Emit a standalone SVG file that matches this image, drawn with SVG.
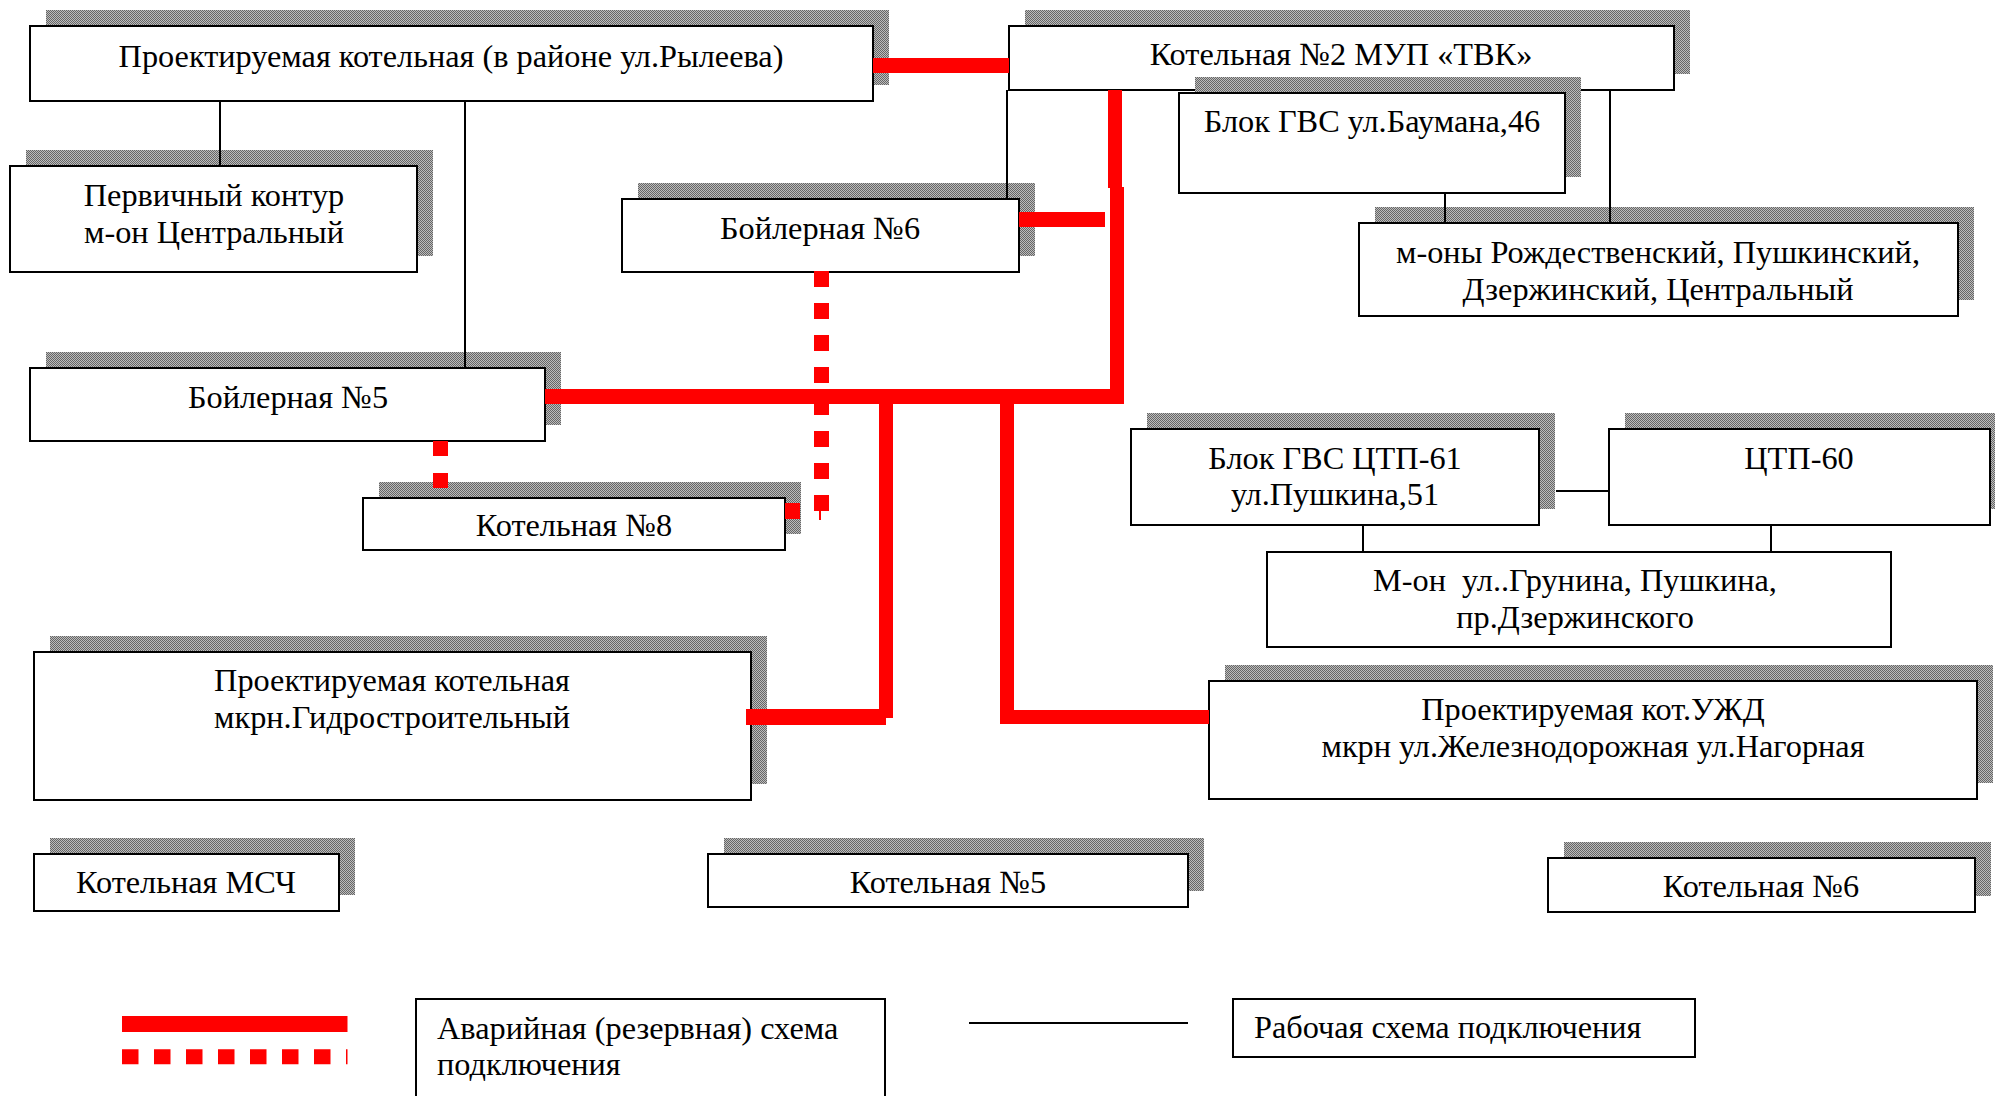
<svg xmlns="http://www.w3.org/2000/svg" width="1995" height="1096" viewBox="0 0 1995 1096">
<defs>
<pattern id="dots" width="2" height="2" patternUnits="userSpaceOnUse">
<rect width="2" height="2" fill="#bcbcbc"/>
<rect width="1" height="1" fill="#666"/>
<rect x="1" y="1" width="1" height="1" fill="#666"/>
</pattern>
</defs>
<style>
.box{fill:#fff;stroke:#000;stroke-width:2}
.sh{fill:url(#dots)}
.t{font-family:"Liberation Serif","Times New Roman",serif;font-size:32.3px;fill:#000;text-anchor:middle}
.tl{text-anchor:start}
.thin{stroke:#000;stroke-width:2;fill:none}
.red{fill:#f00}
.dash{stroke:#f00;stroke-width:15;fill:none}
</style>
<rect width="1995" height="1096" fill="#fff"/>

<g id="node-ryleeva">
<rect class="sh" x="46" y="10" width="843" height="75"/>
<rect class="box" x="30" y="26" width="843" height="75"/>
<text class="t" x="451" y="67">Проектируемая котельная (в районе ул.Рылеева)</text>
</g>
<g id="node-perv">
<rect class="sh" x="26" y="150" width="407" height="106"/>
<rect class="box" x="10" y="166" width="407" height="106"/>
<text class="t" x="214" y="206">Первичный контур</text>
<text class="t" x="214" y="243">м-он Центральный</text>
</g>
<g id="node-kot2">
<rect class="sh" x="1025" y="10" width="665" height="64"/>
<rect class="box" x="1009" y="26" width="665" height="64"/>
<text class="t" x="1341" y="65">Котельная №2 МУП «ТВК»</text>
</g>
<g id="node-boil6">
<rect class="sh" x="638" y="183" width="397" height="73"/>
<rect class="box" x="622" y="199" width="397" height="73"/>
<text class="t" x="820" y="239">Бойлерная №6</text>
</g>
<g id="node-baumana">
<rect class="sh" x="1195" y="77" width="386" height="100"/>
<rect class="box" x="1179" y="93" width="386" height="100"/>
<text class="t" x="1372" y="132">Блок ГВС ул.Баумана,46</text>
</g>
<g id="node-mony">
<rect class="sh" x="1375" y="207" width="599" height="93"/>
<rect class="box" x="1359" y="223" width="599" height="93"/>
<text class="t" x="1658" y="263">м-оны Рождественский, Пушкинский,</text>
<text class="t" x="1658" y="300">Дзержинский, Центральный</text>
</g>
<g id="node-boil5">
<rect class="sh" x="46" y="352" width="515" height="73"/>
<rect class="box" x="30" y="368" width="515" height="73"/>
<text class="t" x="288" y="408">Бойлерная №5</text>
</g>
<g id="node-kot8">
<rect class="sh" x="379" y="482" width="422" height="52"/>
<rect class="box" x="363" y="498" width="422" height="52"/>
<text class="t" x="574" y="536">Котельная №8</text>
</g>
<g id="node-ctp61">
<rect class="sh" x="1147" y="413" width="408" height="96"/>
<rect class="box" x="1131" y="429" width="408" height="96"/>
<text class="t" x="1335" y="469">Блок ГВС ЦТП-61</text>
<text class="t" x="1335" y="505">ул.Пушкина,51</text>
</g>
<g id="node-ctp60">
<rect class="sh" x="1625" y="413" width="381" height="96"/>
<rect class="box" x="1609" y="429" width="381" height="96"/>
<text class="t" x="1799" y="469">ЦТП-60</text>
</g>
<g id="node-grunina">
<rect class="box" x="1267" y="552" width="624" height="95"/>
<text class="t" x="1575" y="591" style="white-space:pre">М-он  ул..Грунина, Пушкина,</text>
<text class="t" x="1575" y="628">пр.Дзержинского</text>
</g>
<g id="node-gidro">
<rect class="sh" x="50" y="636" width="717" height="148"/>
<rect class="box" x="34" y="652" width="717" height="148"/>
<text class="t" x="392" y="691">Проектируемая котельная</text>
<text class="t" x="392" y="728">мкрн.Гидростроительный</text>
</g>
<g id="node-uzhd">
<rect class="sh" x="1225" y="665" width="768" height="118"/>
<rect class="box" x="1209" y="681" width="768" height="118"/>
<text class="t" x="1593" y="720">Проектируемая кот.УЖД</text>
<text class="t" x="1593" y="757">мкрн ул.Железнодорожная ул.Нагорная</text>
</g>
<g id="node-msch">
<rect class="sh" x="50" y="838" width="305" height="57"/>
<rect class="box" x="34" y="854" width="305" height="57"/>
<text class="t" x="186" y="893">Котельная МСЧ</text>
</g>
<g id="node-kot5">
<rect class="sh" x="724" y="838" width="480" height="53"/>
<rect class="box" x="708" y="854" width="480" height="53"/>
<text class="t" x="948" y="893">Котельная №5</text>
</g>
<g id="node-kot6">
<rect class="sh" x="1564" y="842" width="427" height="54"/>
<rect class="box" x="1548" y="858" width="427" height="54"/>
<text class="t" x="1761" y="897">Котельная №6</text>
</g>

<g id="connectors">
<line class="thin" x1="220" y1="101" x2="220" y2="166"/>
<line class="thin" x1="465" y1="101" x2="465" y2="368"/>
<line class="thin" x1="1007" y1="90" x2="1007" y2="199"/>
<line class="thin" x1="1610" y1="90" x2="1610" y2="223"/>
<line class="thin" x1="1445" y1="193" x2="1445" y2="223"/>
<line class="thin" x1="1556" y1="491" x2="1609" y2="491"/>
<line class="thin" x1="1363" y1="525" x2="1363" y2="552"/>
<line class="thin" x1="1771" y1="525" x2="1771" y2="552"/>

<rect class="red" x="873" y="58" width="136" height="15"/>
<rect class="red" x="1108" y="90" width="14" height="98"/>
<rect class="red" x="1110" y="187" width="14" height="217"/>
<rect class="red" x="1019" y="212" width="86" height="15"/>
<rect class="red" x="545" y="389" width="579" height="15"/>
<rect class="red" x="879" y="389" width="14" height="329"/>
<rect class="red" x="746" y="709" width="140" height="16"/>
<rect class="red" x="1000" y="389" width="14" height="335"/>
<rect class="red" x="1000" y="710" width="209" height="14"/>
<line class="dash" x1="821.5" y1="271" x2="821.5" y2="511" stroke-dasharray="16 16"/>
<line x1="820" y1="510" x2="820" y2="520" stroke="#f00" stroke-width="2"/>
<rect class="red" x="785" y="503" width="15" height="16"/>
<line class="dash" x1="440.5" y1="441" x2="440.5" y2="488" stroke-dasharray="15 17"/>
</g>

<g id="legend">
<rect class="red" x="122" y="1016" width="225.5" height="16"/>
<line class="dash" x1="122" y1="1056.7" x2="347.5" y2="1056.7" stroke-dasharray="16.5 15.5"/>
<rect class="box" x="416" y="999" width="469" height="110"/>
<text class="t tl" x="437" y="1039">Аварийная (резервная) схема</text>
<text class="t tl" x="437" y="1075">подключения</text>
<line class="thin" x1="969" y1="1023" x2="1188" y2="1023"/>
<rect class="box" x="1233" y="999" width="462" height="58"/>
<text class="t tl" x="1254" y="1038">Рабочая схема подключения</text>
</g>
</svg>
